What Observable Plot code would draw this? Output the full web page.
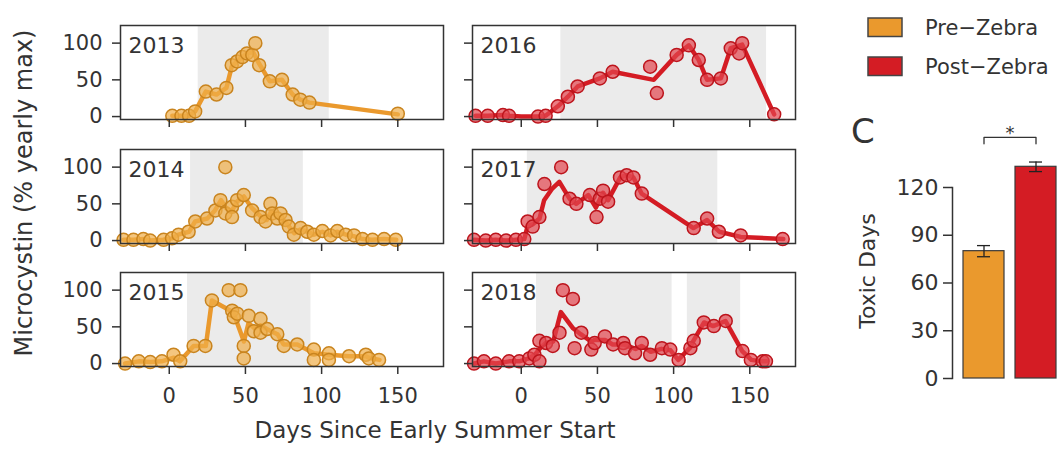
<!DOCTYPE html>
<html><head><meta charset="utf-8">
<script src="https://cdn.jsdelivr.net/npm/d3@7"></script>
<script src="https://cdn.jsdelivr.net/npm/@observablehq/plot@0.6"></script>
<style>
html,body{margin:0;padding:0;background:#fff;overflow:hidden;}
#root{position:relative;width:1058px;height:449px;overflow:hidden;}
</style></head><body><div id="root"></div>
<script>
// ---------- data ----------
const dayTicks = [0, 50, 100, 150];
const pctTicks = [0, 50, 100];
const toxicTicks = [0, 30, 60, 90, 120];
const groups = ["Pre\u2212Zebra", "Post\u2212Zebra"];
const toxicDays = [80, 133];
const toxicSE = [3.5, 3];
const yTitle = "Microcystin (% yearly max)";
const xTitle = "Days Since Early Summer Start";
const cTitle = "Toxic Days";

const shade2013 = [[19, 105]];
const shade2014 = [[14, 88]];
const shade2015 = [[12, 93]];
const shade2016 = [[26, 161]];
const shade2017 = [[4, 129]];
const shade2018 = [[10, 99], [109, 144]];

const line2013 = [[2,1],[8,1],[13,1],[17,7],[24,34],[31,30],[37.5,39],[41,68],[44.5,75],[48,81],[51,86],[55,88],[59,72],[66,48],[74,50],[81,30],[86,23],[92,19],[150,3]];
const pts2013 = [[2,1],[8,1],[13,1],[17,7],[24,34],[31,30],[37.5,39],[41,70],[44.5,75],[48,81],[51,86],[54.5,84],[56.5,100],[59,70],[66,48],[74,50],[81,30],[86,23],[92,19],[150,4]];

const line2014 = [[-30,1],[-23.5,1],[-17,2],[-12.5,0],[-4,1],[2,3],[6,8],[13,12],[17,26],[25,30],[30,41],[34,55],[37,45],[41,40],[44.5,53],[49,60],[54,45],[60,33],[64,28],[67,40],[71,32],[76,26],[79,18],[82,10],[86,15],[91,12],[95,8],[100.5,12],[106,7],[110,12],[116,8],[121,6],[127,2],[133,1],[141,2],[149,1]];
const pts2014 = [[-30,1],[-23.5,1],[-17,2],[-12.5,0],[-3.7,1],[1.8,3],[6.1,8],[12.7,12],[17.1,26],[24.8,30],[30.3,41],[33.6,55],[36.8,100],[36.8,37],[41.2,46],[41.2,32],[44.5,55],[48.9,62],[54.4,41],[59.9,32],[63.2,26],[66.4,50],[67.6,37],[70.9,30],[73,37],[76.3,28],[78.5,19],[81.8,8],[86.2,17],[90.6,12],[94.9,8],[100.5,13],[105.9,7],[110.3,13],[115.8,8],[121.3,7],[126.8,2],[133.4,1],[141,2],[148.7,1]];

const line2015 = [[-29,0],[-20,3],[-12.5,2],[-5,3],[3,8],[7,3],[16,24],[24,24],[28,86],[42,70],[49,30],[52,55],[56,48],[60,52],[64,47],[71,40],[75,26],[84,26],[95,14],[105,12],[118,10],[129,10],[131,8],[138,5]];
const pts2015 = [[-29,0],[-20,3],[-12.5,2],[-4.8,3],[2.8,12],[7.2,3],[16,24],[23.7,24],[28,86],[39,100],[46.7,100],[41.3,72],[42.4,63],[44.6,68],[48.9,24],[48.9,7],[52.2,65],[55.5,44],[59.9,61],[59.9,42],[64.3,47],[70.9,40],[75.2,24],[84,26],[94.9,19],[94.9,5],[104.8,14],[104.8,5],[118,10],[129,12],[131,7],[137.7,5]];

const line2016 = [[-30,1],[-22,1],[-12,2],[-8,1],[0,0],[11,0],[16,1],[24,14],[30.6,27],[37,41],[51.6,52],[60,61],[87,50],[102,84],[110,97],[116.5,77],[122,50],[131,52],[137.5,93],[145,98],[166,3]];
const pts2016 = [[-30,1],[-22,1],[-12,2],[-8,1],[11,0],[16,1],[24,14],[30.6,27],[37,41],[51.6,52],[60,61],[84.6,68],[89,32],[102,84],[110,97],[116.5,77],[122,50],[131,52],[137.5,93],[143,86],[145,100],[166,3]];

const line2017 = [[-31,1],[-23,0],[-17,1],[-10,0],[-3.5,1],[2,2],[4.2,20],[7.5,22],[12,30],[15,55],[20,70],[25,80],[31.7,57],[36,50],[44,62],[49,45],[53.7,65],[57,55],[65,86],[69,89],[73.6,86],[79,64],[113,17],[122,28],[130,12],[144,5],[172,2]];
const pts2017 = [[-31,1],[-23.3,0],[-16.7,1],[-10,0],[-3.5,1],[2,2],[4.2,26],[7.5,19],[11.9,32],[15.2,77],[26.2,100],[31.7,57],[36.2,50],[45,62],[49.4,32],[51.6,57],[53.7,68],[57,53],[64.8,86],[69.2,89],[73.6,86],[79.1,64],[113.2,17],[122,30],[129.7,12],[144,7],[171.6,2]];

const line2018 = [[-31,0],[-24.5,3],[-16.7,0],[-8,3],[-1.3,3],[5,7],[9,12],[12,20],[16,28],[21,30],[26,70],[34,48],[39,40],[46,30],[48,32],[55,32],[60,26],[67,26],[75,20],[79,24],[85,16],[92,20],[98,18],[103,5],[111,22],[113,31],[120,56],[126,51],[134,58],[145,17],[151,5],[158,3],[161,3]];
const pts2018 = [[-31,0],[-24.5,3],[-16.7,0],[-8,3],[-1.3,3],[5.3,7],[8.6,12],[11.9,3],[11.9,31],[16.3,28],[20.7,24],[25.1,42],[27.3,100],[33.9,88],[35,21],[39.4,42],[46,19],[48.2,28],[54.9,37],[60.3,26],[67,28],[68.1,21],[74.7,14],[79.1,28],[84.6,12],[92.3,21],[97.8,19],[103.3,5],[111,21],[113.2,31],[119.8,56],[126.4,51],[134.2,58],[145.2,17],[150.7,5],[158.4,3],[160.6,3]];

// ---------- layout ----------
const FONT = '"DejaVu Sans", sans-serif';
const rowTops = [25, 149, 272];
const colLefts = [120, 472];
const panelW = 323, panelH = 94;
const pal = [
  {line: "#ea992d", fill: "#f0ae48", stroke: "#c9841e"},
  {line: "#d41c24", fill: "#e3464e", stroke: "#bd141c"}
];
const panels = [
  {year: "2013", line: line2013, pts: pts2013, shade: shade2013, g: 0, col: 0, row: 0},
  {year: "2014", line: line2014, pts: pts2014, shade: shade2014, g: 0, col: 0, row: 1},
  {year: "2015", line: line2015, pts: pts2015, shade: shade2015, g: 0, col: 0, row: 2},
  {year: "2016", line: line2016, pts: pts2016, shade: shade2016, g: 1, col: 1, row: 0},
  {year: "2017", line: line2017, pts: pts2017, shade: shade2017, g: 1, col: 1, row: 1},
  {year: "2018", line: line2018, pts: pts2018, shade: shade2018, g: 1, col: 1, row: 2}
];

const root = document.getElementById("root");
function place(node, left, top) {
  node.style.position = "absolute";
  node.style.left = left + "px";
  node.style.top = top + "px";
  root.appendChild(node);
}

for (const p of panels) {
  const yLab = p.col === 0, xLab = p.row === 2;
  const mL = yLab ? 120 : 20, mT = 3, mR = 4, mB = xLab ? 46 : 12;
  const c = pal[p.g];
  const fig = Plot.plot({
    width: mL + panelW + mR, height: mT + panelH + mB,
    marginLeft: mL, marginRight: mR, marginTop: mT, marginBottom: mB,
    style: {fontFamily: FONT, fontSize: "21px", color: "#333", background: "transparent", overflow: "visible"},
    x: {domain: [-32, 180]},
    y: {domain: [-4, 124]},
    marks: [
      Plot.rect(p.shade, {x1: d => d[0], x2: d => d[1], fill: "#ebebeb"}),
      Plot.text([p.year], {text: d => d, frameAnchor: "top-left", dx: 8, dy: 12, fontSize: 22, fill: "#333"}),
      Plot.line(p.line, {x: d => d[0], y: d => d[1], stroke: c.line, strokeWidth: 4.5, strokeLinejoin: "round", strokeLinecap: "round"}),
      Plot.dot(p.pts, {x: d => d[0], y: d => d[1], r: 6.5, fill: c.fill, fillOpacity: 0.7, stroke: c.stroke, strokeWidth: 1.5}),
      Plot.frame({stroke: "#333", strokeWidth: 1.5}),
      Plot.axisX({ticks: dayTicks, tickSize: 8, tickPadding: 14, tickFormat: xLab ? d => String(d) : () => "", label: null, strokeWidth: 1.5}),
      Plot.axisY({ticks: pctTicks, tickSize: 8, tickPadding: 10, tickFormat: yLab ? d => String(d) : () => "", label: null, strokeWidth: 1.5})
    ]
  });
  place(fig, colLefts[p.col] - mL, rowTops[p.row] - mT);
}

// ---------- panel C ----------
const barData = groups.map((g, i) => ({group: g, days: toxicDays[i], se: toxicSE[i]}));
const topVal = d3.max(barData, d => d.days + d.se);
const bracket = [
  {group: groups[0], y: topVal + 11.5},
  {group: groups[0], y: topVal + 15.5},
  {group: groups[1], y: topVal + 15.5},
  {group: groups[1], y: topVal + 11.5}
];
const figC = Plot.plot({
  width: 232, height: 290, marginLeft: 117, marginRight: 0, marginTop: 87, marginBottom: 12,
  style: {fontFamily: FONT, fontSize: "22px", color: "#333", background: "transparent", overflow: "visible"},
  x: {domain: groups, paddingInner: 0.21, paddingOuter: 0.21, axis: null},
  y: {domain: [0, 120]},
  color: {domain: groups, range: [pal[0].line, pal[1].line]},
  marks: [
    Plot.barY(barData, {x: "group", y: "days", fill: "group", stroke: "#3a3a3a", strokeWidth: 1.2}),
    Plot.ruleX(barData, {x: "group", y1: d => d.days - d.se, y2: d => d.days + d.se, stroke: "#222", strokeWidth: 1.3}),
    Plot.tickY(barData, {x: "group", y: d => d.days - d.se, inset: 14, stroke: "#222", strokeWidth: 1.3}),
    Plot.tickY(barData, {x: "group", y: d => d.days + d.se, inset: 14, stroke: "#222", strokeWidth: 1.3}),
    Plot.line(bracket, {x: "group", y: "y", stroke: "#333", strokeWidth: 1.3}),
    Plot.text(["*"], {y: () => topVal + 18, text: d => d, fontSize: 18, fill: "#333"}),
    Plot.axisY({ticks: toxicTicks, tickSize: 9, tickPadding: 5, label: null, strokeWidth: 1.5}),
    Plot.frame({anchor: "left", stroke: "#333", strokeWidth: 1.5})
  ]
});
place(figC, 835, 100);

// ---------- titles & legend ----------
const ov = d3.select(root).append("svg")
  .attr("width", 1058).attr("height", 449)
  .style("position", "absolute").style("left", "0px").style("top", "0px")
  .style("pointer-events", "none")
  .attr("font-family", FONT).attr("fill", "#333");

ov.append("text").attr("transform", "translate(31.5,193) rotate(-90)")
  .attr("text-anchor", "middle").attr("font-size", 24).text(yTitle);
ov.append("text").attr("x", 435).attr("y", 438)
  .attr("text-anchor", "middle").attr("font-size", 23).text(xTitle);
ov.append("text").attr("transform", "translate(875,271) rotate(-90)")
  .attr("text-anchor", "middle").attr("font-size", 22).text(cTitle);
ov.append("text").attr("x", 851).attr("y", 143).attr("font-size", 34).text("C");

const legendY = [18, 57];
groups.forEach((g, i) => {
  ov.append("rect").attr("x", 868).attr("y", legendY[i]).attr("width", 34).attr("height", 18.5)
    .attr("fill", pal[i].line).attr("stroke", "#444").attr("stroke-width", 1.5);
  ov.append("text").attr("x", 925).attr("y", legendY[i] + 17).attr("font-size", 21).text(g);
});
</script>
</body></html>
